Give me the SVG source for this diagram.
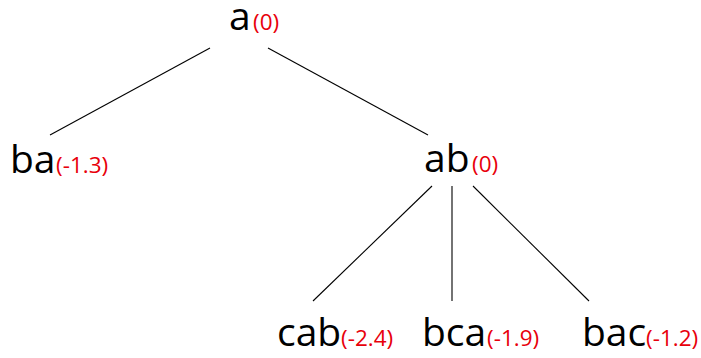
<svg xmlns="http://www.w3.org/2000/svg" width="701" height="358" viewBox="0 0 701 358">
<style>
.lbl{font-family:"Open Sans","Noto Sans",sans-serif;font-size:39px;fill:#000}
.sc{font-family:"Open Sans","Noto Sans",sans-serif;font-size:22.5px;fill:#e8000b}
.edge{stroke:#000;stroke-width:1.1;fill:none}
</style>
<rect width="701" height="358" fill="#fff"/>
<g id="connectors">
<line class="edge" x1="210" y1="48" x2="50" y2="135"/>
<line class="edge" x1="268" y1="48" x2="428" y2="135"/>
<line class="edge" x1="432" y1="186" x2="313" y2="301"/>
<line class="edge" x1="452" y1="186" x2="452" y2="301"/>
<line class="edge" x1="473" y1="186" x2="589" y2="301"/>
</g>
<g id="node-a"><text class="lbl" x="229" y="30">a</text><text class="sc" x="253" y="30">(0)</text></g>
<g id="node-ba"><text class="lbl" x="10" y="173">ba</text><text class="sc" x="56" y="173">(-1.3)</text></g>
<g id="node-ab"><text class="lbl" x="424" y="172">ab</text><text class="sc" x="472" y="172">(0)</text></g>
<g id="node-cab"><text class="lbl" x="277" y="346">cab</text><text class="sc" x="341" y="346">(-2.4)</text></g>
<g id="node-bca"><text class="lbl" x="422" y="346">bca</text><text class="sc" x="487" y="346">(-1.9)</text></g>
<g id="node-bac"><text class="lbl" x="582" y="346">bac</text><text class="sc" x="646" y="346">(-1.2)</text></g>
</svg>
